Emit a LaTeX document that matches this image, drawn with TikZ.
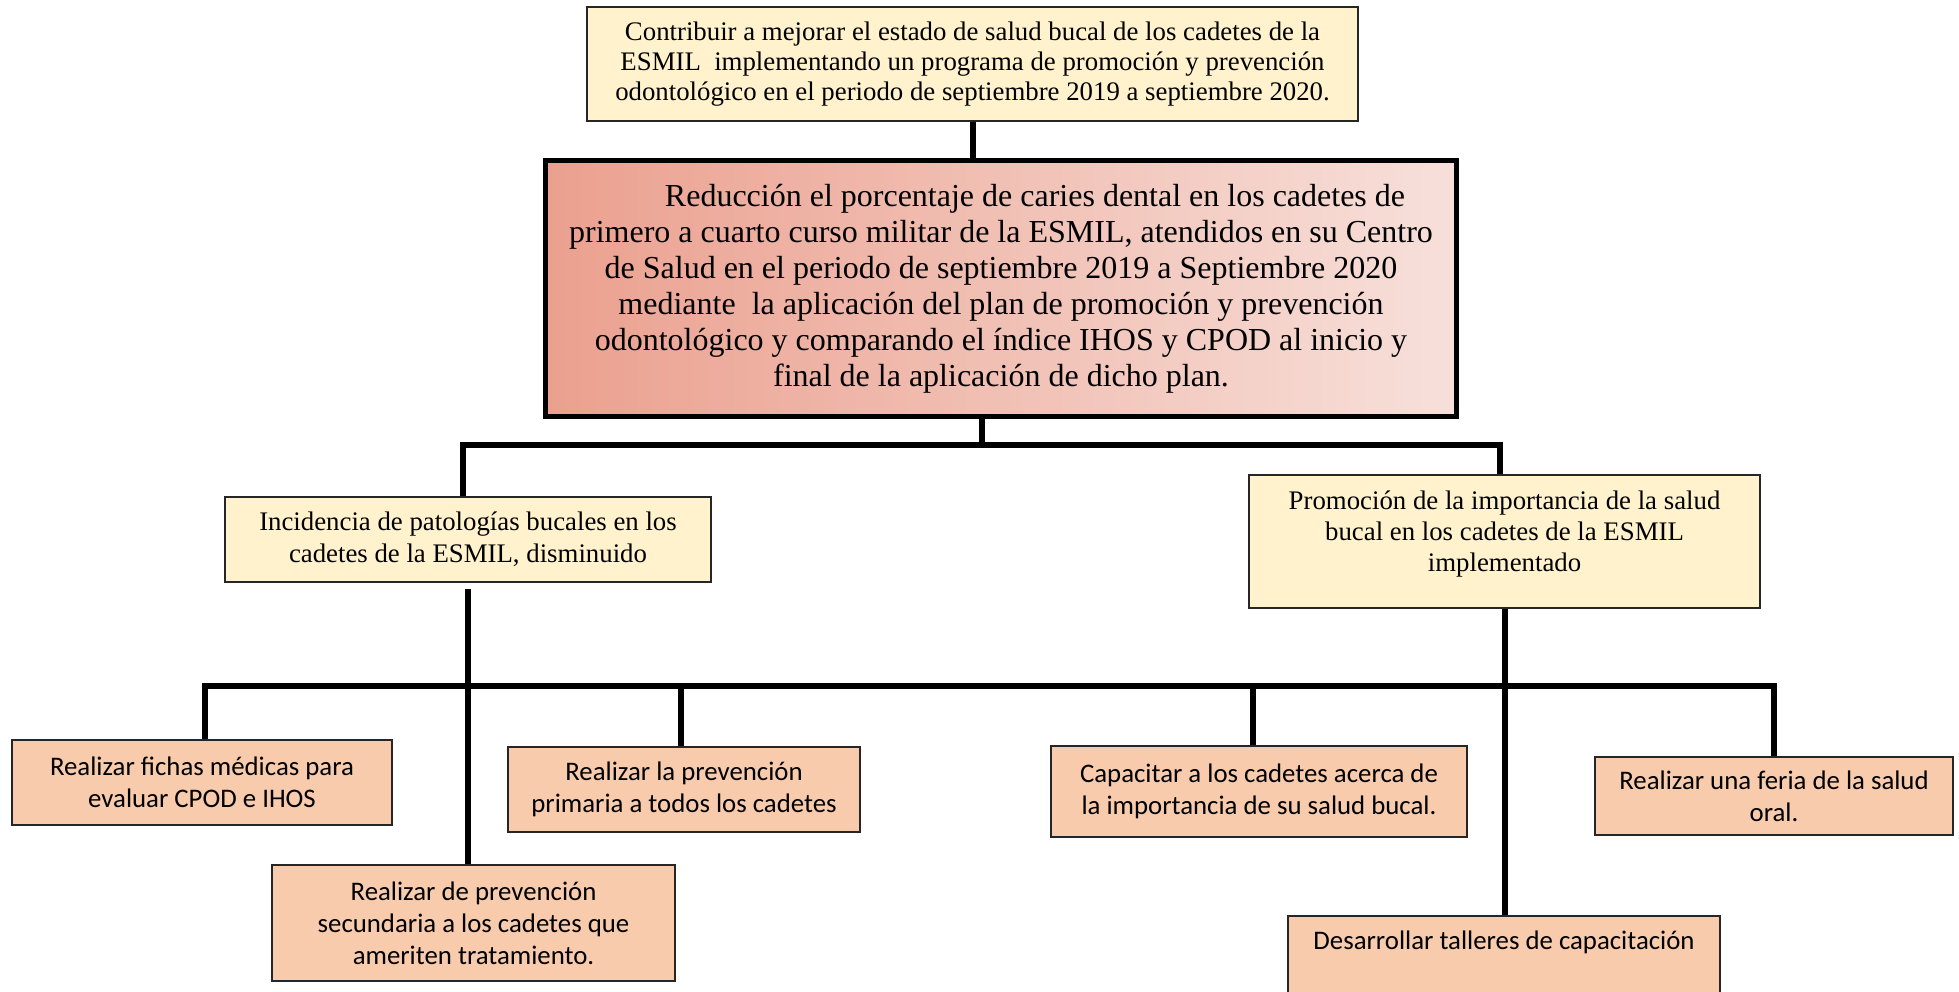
\documentclass[tikz,border=0pt]{standalone}
\usepackage{fontspec}
\setmainfont{Liberation Serif}
\newfontfamily\calibri{Carlito}
\usetikzlibrary{calc}

\definecolor{paleyellow}{HTML}{FFF2CC}
\definecolor{peach}{HTML}{F8CBAD}
\definecolor{salmonL}{HTML}{EBA08F}
\definecolor{salmonR}{HTML}{F7E0DA}

\begin{document}
\begin{tikzpicture}[x=1pt, y=-1pt, align=center,
	yellowbox/.style = {draw=black!85, line width=2pt, fill=paleyellow, inner sep=0pt, font=\fontsize{26.8}{30}\selectfont},
	peachbox/.style = {draw=black!85, line width=2pt, fill=peach, inner sep=0pt, font=\calibri\fontsize{26.8}{32}\selectfont},
	goalbox/.style = {draw, line width=5pt, left color=salmonL, right color=salmonR, inner sep=0pt, font=\fontsize{32}{36}\selectfont},
	link/.style = {line width=6pt, line join=miter}]
	\useasboundingbox (0,0) rectangle (1959,992);
	\node[yellowbox, minimum width=771pt, minimum height=114pt] (aim) at (972.5,64) {Contribuir a mejorar el estado de salud bucal de los cadetes de la\\ ESMIL\ \ implementando un programa de promoción y prevención\\ odontológico en el periodo de septiembre 2019 a septiembre 2020.};
	\node[goalbox, minimum width=911pt, minimum height=256pt] (goal) at (1001,288.5) {\hspace*{68pt}Reducción el porcentaje de caries dental en los cadetes de\\ primero a cuarto curso militar de la ESMIL, atendidos en su Centro\\ de Salud en el periodo de septiembre 2019 a Septiembre 2020\\ mediante\ \ la aplicación del plan de promoción y prevención\\ odontológico y comparando el índice IHOS y CPOD al inicio y\\ final de la aplicación de dicho plan.};
	\node[yellowbox, minimum width=486pt, minimum height=85pt, font=\fontsize{26.8}{32}\selectfont] (cause) at (468,539.5) {Incidencia de patologías bucales en los\\ cadetes de la ESMIL, disminuido};
	\node[yellowbox, minimum width=511pt, minimum height=133pt, font=\fontsize{26.8}{31}\selectfont] (promo) at (1504.5,541.5) {Promoción de la importancia de la salud\\ bucal en los cadetes de la ESMIL\\ implementado\\[-10pt]};
	\node[peachbox, minimum width=380pt, minimum height=85pt] (fichas) at (202,782.5) {Realizar fichas médicas para\\ evaluar CPOD e IHOS};
	\node[peachbox, minimum width=352pt, minimum height=85pt] (primaria) at (684,789.5) {Realizar la prevención\\ primaria a todos los cadetes};
	\node[peachbox, minimum width=403pt, minimum height=116pt] (secundaria) at (473.5,923) {Realizar de prevención\\ secundaria a los cadetes que\\ ameriten tratamiento.};
	\node[peachbox, minimum width=416pt, minimum height=91pt] (capacitar) at (1259,791.5) {Capacitar a los cadetes acerca de\\ la importancia de su salud bucal.};
	\node[peachbox, minimum width=358pt, minimum height=78pt] (feria) at (1774,796) {Realizar una feria de la salud\\ oral.};
	\node[peachbox, minimum width=432pt, inner ysep=15pt, anchor=north] (talleres) at (1504,915) {Desarrollar talleres de capacitación\\ \strut\\ \strut};
	% upper tree
	\coordinate (j2) at (982,0);
	\coordinate (barL) at (463,445);
	\coordinate (barR) at (1500,445);
	\draw[link] (aim.south) -- (aim.south |- goal.north);
	\draw[link] (j2 |- goal.south) -- (j2 |- barL);
	\draw[link] (barL |- cause.north) -- (barL) -- (barR) -- (barR |- promo.north);
	% lower tree
	\coordinate (lowL) at (205,686);
	\coordinate (lowR) at (1774,686);
	\draw[link] (lowL |- fichas.north) -- (lowL) -- (lowR) -- (lowR |- feria.north);
	\draw[link] ([xshift=-3pt]primaria.north) -- ([xshift=-3pt]primaria.north |- lowL);
	\draw[link] ([xshift=-6pt]capacitar.north) -- ([xshift=-6pt]capacitar.north |- lowL);
	\draw[link, shorten <=6pt] (cause.south) -- (cause.south |- secundaria.north);
	\draw[link] (promo.south) -- (promo.south |- talleres.north);
\end{tikzpicture}
\end{document}
